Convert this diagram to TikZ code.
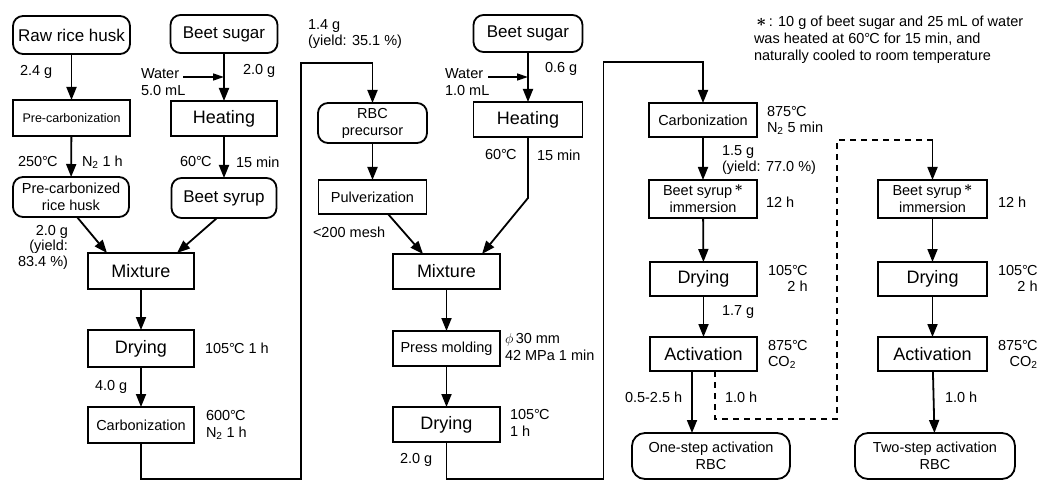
\documentclass[tikz,border=0pt]{standalone}
\usepackage{fontspec}
\setmainfont{Liberation Sans}
\usetikzlibrary{arrows.meta}
\newcommand\degC{°\kern-0.06em C}
\newcommand\lowtwo{\textsubscript{2}}
\newcommand\supast{\raisebox{0.55ex}{\fontsize{15}{15}\selectfont$\boldsymbol{\ast}$}}
\usepackage{amsmath}
\begin{document}
\begin{tikzpicture}[x=1pt,y=-1pt,
  every node/.style={inner sep=0pt, outer sep=0pt},
  box/.style={draw, line width=1.8pt, align=center},
  rbox/.style={box, rounded corners=10pt},
  fbig/.style={font=\fontsize{18}{20}\selectfont},
  fmid/.style={font=\fontsize{17}{19}\selectfont},
  fsm/.style={font=\fontsize{14.5}{17}\selectfont},
  fxs/.style={font=\fontsize{12.5}{14}\selectfont},
  ann/.style={font=\fontsize{14.5}{16.5}\selectfont, anchor=west, align=left},
  arr/.style={line width=1.8pt, -{Triangle[length=13pt,width=10pt]}},
  warr/.style={line width=1.4pt, -{Triangle[length=11pt,width=7pt]}},
  ln/.style={line width=1.8pt},
  dsh/.style={line width=2pt, dash pattern=on 6pt off 5pt}
]
\useasboundingbox (0,0) rectangle (1038,481);

% ---------- column A / B ----------
\node[rbox,fmid,minimum width=117pt,minimum height=38pt] (rrh) at (71.5,35) {Raw rice husk};
\node[box,fxs,minimum width=117pt,minimum height=36pt] (prc) at (71.5,118) {Pre-carbonization};
\node[rbox,fsm,minimum width=116pt,minimum height=40pt] (pcrh) at (71,197) {Pre-carbonized\\rice husk};
\node[rbox,fmid,minimum width=107pt,minimum height=38pt] (bs1) at (224,34) {Beet sugar};
\node[box,fbig,minimum width=106pt,minimum height=35pt] (heat1) at (224,118.5) {Heating};
\node[rbox,fmid,minimum width=105pt,minimum height=40pt] (syr1) at (224,198) {Beet syrup};
\node[box,fbig,minimum width=106pt,minimum height=36pt] (mix1) at (141,271) {Mixture};
\node[box,fbig,minimum width=106pt,minimum height=37pt] (dry1) at (141,348.5) {Drying};
\node[box,fsm,minimum width=106pt,minimum height=36pt] (carb1) at (141,425) {Carbonization};

\draw[arr] (rrh) -- (prc);
\draw[arr] (prc) -- (pcrh);
\draw[arr] (bs1) -- (heat1);
\draw[arr] (heat1) -- (syr1);
\coordinate (w1) at (183,77);
\draw[warr] (w1) -- (w1 -| bs1);
\draw[arr] ([xshift=6pt]pcrh.south) -- ([xshift=-34pt]mix1.north);
\draw[arr] ([xshift=-7pt]syr1.south) -- ([xshift=36pt]mix1.north);
\draw[arr] (mix1) -- (dry1);
\draw[arr] (dry1) -- (carb1);

\node[ann] (l1) at (20,72) {2.4 g};
\node[ann] (l2) at (141,82) {Water\\5.0 mL};
\node[ann] (l3) at (243,71) {2.0 g};
\node[ann] (l4) at (18,162) {250\degC};
\node[ann] (l5) at (82,162) {N\lowtwo\ 1 h};
\node[ann] (l6) at (180,162) {60\degC};
\node[ann] (l7) at (236,162) {15 min};
\node[font=\fontsize{14.5}{15.5}\selectfont, anchor=east, align=right] (l8) at (68,247) {2.0 g\\(yield:\\83.4 \%)};
\node[ann] (l9) at (205,348) {105\degC\ 1 h};
\node[ann] (l10) at (95,387) {4.0 g};
\node[ann] (l11) at (206,425) {600\degC\\N\lowtwo\ 1 h};

% ---------- column C / D ----------
\node[rbox,fsm,minimum width=109pt,minimum height=40pt] (rbc) at (372.5,123) {RBC\\precursor};
\node[box,fsm,minimum width=108pt,minimum height=34pt] (pulv) at (372.5,197) {Pulverization};
\node[rbox,fmid,minimum width=109pt,minimum height=37pt] (bs2) at (528,33.5) {Beet sugar};
\node[box,fbig,minimum width=109pt,minimum height=35pt] (heat2) at (528,119.5) {Heating};
\node[box,fbig,minimum width=107pt,minimum height=35pt] (mix2) at (446.5,271.5) {Mixture};
\node[box,fsm,minimum width=107pt,minimum height=35pt] (press) at (446.5,348.5) {Press molding};
\node[box,fbig,minimum width=107pt,minimum height=35pt] (dry2) at (446.5,424.5) {Drying};

\coordinate (b1) at (301,479);
\coordinate (t1) at (301,63);
\draw[arr] (carb1.south) |- (b1) -- (t1) -| (rbc.north);
\draw[arr] (rbc) -- (pulv);
\draw[arr] ([xshift=15.5pt]pulv.south) -- ([xshift=-23.5pt]mix2.north);
\draw[arr] (bs2) -- (heat2);
\coordinate (w2) at (488,77);
\draw[warr] (w2) -- (w2 -| bs2);
\coordinate (k2) at (528,198);
\draw[arr] (heat2.south) -- (k2) -- ([xshift=35.5pt]mix2.north);
\draw[arr] (mix2) -- (press);
\draw[arr] (press) -- (dry2);

\node[ann] (m1) at (308,34) {1.4 g\\(yield: 35.1 \%)};
\node[ann] (m2) at (313,232) {<200 mesh};
\node[ann] (m3) at (445,82) {Water\\1.0 mL};
\node[ann] (m4) at (545,69) {0.6 g};
\node[ann] (m5) at (485,155) {60\degC};
\node[ann] (m6) at (537,155) {15 min};
\node[ann] (m7) at (505,347) {$\phi$\,30 mm\\42 MPa 1 min};
\node[ann] (m8) at (510,423) {105\degC\\1 h};
\node[ann] (m9) at (400,460) {2.0 g};

% ---------- column E / F ----------
\node[box,fsm,minimum width=108pt,minimum height=34pt] (carb2) at (703,120) {Carbonization};
\node[box,fsm,minimum width=108pt,minimum height=38pt] (imm1) at (703,199) {Beet syrup\,\supast\\immersion};
\node[box,fbig,minimum width=107pt,minimum height=34pt] (dry3) at (703.5,279) {Drying};
\node[box,fbig,minimum width=107pt,minimum height=34pt] (act1) at (703.5,354) {Activation};
\node[rbox,fsm,rounded corners=13pt,minimum width=158pt,minimum height=46pt] (one) at (711,456) {One-step activation\\RBC};
\node[box,fsm,minimum width=109pt,minimum height=38pt] (imm2) at (932.5,199) {Beet syrup\,\supast\\immersion};
\node[box,fbig,minimum width=109pt,minimum height=34pt] (dry4) at (932.5,279) {Drying};
\node[box,fbig,minimum width=109pt,minimum height=34pt] (act2) at (932.5,354) {Activation};
\node[rbox,fsm,rounded corners=13pt,minimum width=160pt,minimum height=46pt] (two) at (935,456) {Two-step activation\\RBC};

\coordinate (b2) at (603.5,479);
\coordinate (t2) at (603.5,62);
\draw[arr] (dry2.south) |- (b2) -- (t2) -| (carb2.north);
\draw[arr] (carb2) -- (imm1);
\draw[arr] (imm1) -- (dry3);
\draw[arr] (dry3) -- (act1);
\draw[arr] ([xshift=-11.5pt]act1.south) -- ([xshift=-11.5pt]act1.south |- one.north);
\coordinate (d1) at (715,419);
\coordinate (d2) at (837,140);
\coordinate (d3) at (932.5,140);
\draw[dsh] ([xshift=11.5pt]act1.south) |- (d1) -| (d2) -- (d3);
\draw[arr] (d3) -- (imm2.north);
\draw[arr] (imm2) -- (dry4);
\draw[arr] (dry4) -- (act2);
\draw[arr] (act2) -- (two);

\node[ann] (n1) at (767,120.5) {875\degC\\N\lowtwo\ 5 min};
\node[ann] (n2) at (722,160) {1.5 g\\(yield: 77.0 \%)};
\node[ann] (n3) at (766,202) {12 h};
\node[ann,align=right] (n4) at (768,278.5) {105\degC\\2 h};
\node[ann] (n5) at (722,312) {1.7 g};
\node[ann] (n6) at (768,354.5) {875\degC\\CO\lowtwo};
\node[ann] (n7) at (625,397) {0.5-2.5 h};
\node[ann] (n8) at (725,397) {1.0 h};
\node[ann] (n9) at (998,202) {12 h};
\node[ann,align=right] (n10) at (998,278.5) {105\degC\\2 h};
\node[ann,align=right] (n11) at (998,354.5) {875\degC\\CO\lowtwo};
\node[ann] (n12) at (945,397) {1.0 h};

\node[font=\fontsize{14.5}{17}\selectfont, anchor=west, align=left] (note) at (754,40) {\,{\fontsize{19}{17}\selectfont$\boldsymbol{\ast}$}\,: 10 g of beet sugar and 25 mL of water\\was heated at 60\degC\ for 15 min, and\\naturally cooled to room temperature};
\end{tikzpicture}
\end{document}
